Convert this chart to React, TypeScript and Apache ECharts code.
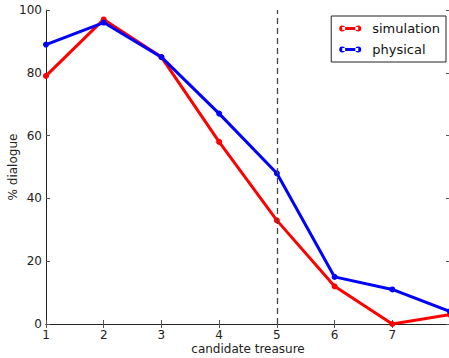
import React, { useEffect, useRef } from "react";
import * as echarts from "echarts";

const xValues = [1, 2, 3, 4, 5, 6, 7, 8];
const simulation = [79, 97, 85, 58, 33, 12, 0, 3];
const physical = [89, 96, 85, 67, 48, 15, 11, 4];
const yTicks = [0, 20, 40, 60, 80, 100];
const dashedX = 5;

const FONT = "DejaVu Sans";
const legendIcon =
  "path://M3,1.6L19,1.6L19,4.4L3,4.4Z M0,3a3,3 0 1,0 6,0a3,3 0 1,0 -6,0Z M16,3a3,3 0 1,0 6,0a3,3 0 1,0 -6,0Z";

export default function App() {
  const ref = useRef<HTMLDivElement>(null);
  useEffect(() => {
    if (!ref.current) return;
    const chart = echarts.init(ref.current, null, { renderer: "svg" });
    const axisLine = { show: true, lineStyle: { color: "#222", width: 1 } };
    const tickStyle = { show: true, inside: true, length: 4, lineStyle: { color: "#555" } };
    chart.setOption({
      animation: false,
      backgroundColor: "#fff",
      textStyle: { fontFamily: FONT },
      grid: {
        left: 46,
        right: -1,
        top: 10,
        bottom: 34,
        containLabel: false,
        outerBoundsMode: "none",
      },
      legend: {
        right: 3,
        top: 16,
        orient: "vertical",
        icon: legendIcon,
        itemWidth: 22,
        itemHeight: 6,
        itemGap: 8,
        padding: [6, 6, 6, 8],
        borderColor: "#222",
        borderWidth: 1,
        backgroundColor: "#fff",
        textStyle: { fontFamily: FONT, fontSize: 13, color: "#111", padding: [0, 0, 0, 6] },
        data: ["simulation", "physical"],
      },
      xAxis: [
        {
          type: "value",
          min: 1,
          max: 8,
          interval: 1,
          name: "candidate treasure",
          nameLocation: "middle",
          nameGap: 19,
          nameMoveOverlap: false,
          nameTextStyle: { fontFamily: FONT, fontSize: 12, color: "#222" },
          axisLine,
          axisTick: tickStyle,
          splitLine: { show: false },
          axisLabel: {
            fontFamily: FONT,
            fontSize: 12,
            color: "#222",
            margin: 5,
            formatter: (v: number) => (v === 8 ? "" : String(v)),
          },
        },
        {
          type: "value",
          position: "top",
          min: 1,
          max: 8,
          interval: 1,
          axisLine,
          axisTick: tickStyle,
          splitLine: { show: false },
          axisLabel: { show: false },
        },
      ],
      yAxis: [
        {
          type: "value",
          min: yTicks[0],
          max: yTicks[yTicks.length - 1],
          interval: 20,
          name: "% dialogue",
          nameLocation: "middle",
          nameGap: 27,
          nameMoveOverlap: false,
          nameTextStyle: { fontFamily: FONT, fontSize: 12, color: "#222" },
          axisLine,
          axisTick: tickStyle,
          splitLine: { show: false },
          axisLabel: { fontFamily: FONT, fontSize: 12, color: "#222", margin: 4 },
        },
        {
          type: "value",
          position: "right",
          min: 0,
          max: 100,
          interval: 20,
          axisLine,
          axisTick: tickStyle,
          splitLine: { show: false },
          axisLabel: { show: false },
        },
      ],
      series: [
        {
          name: "simulation",
          type: "line",
          data: xValues.map((x, i) => [x, simulation[i]]),
          color: "#ff0000",
          lineStyle: { width: 3, color: "#ff0000" },
          symbol: "circle",
          symbolSize: 6,
          itemStyle: { color: "#ff0000" },
          markLine: {
            silent: true,
            symbol: "none",
            label: { show: false },
            lineStyle: { type: [6, 4], color: "#444", width: 1.3 },
            data: [{ xAxis: dashedX }],
          },
        },
        {
          name: "physical",
          type: "line",
          data: xValues.map((x, i) => [x, physical[i]]),
          color: "#0000ff",
          lineStyle: { width: 3, color: "#0000ff" },
          symbol: "circle",
          symbolSize: 6,
          itemStyle: { color: "#0000ff" },
        },
      ],
    });
    return () => chart.dispose();
  }, []);
  return (
    <div
      ref={ref}
      style={{ position: "absolute", left: 0, top: 0, width: 449, height: 358 }}
    />
  );
}
